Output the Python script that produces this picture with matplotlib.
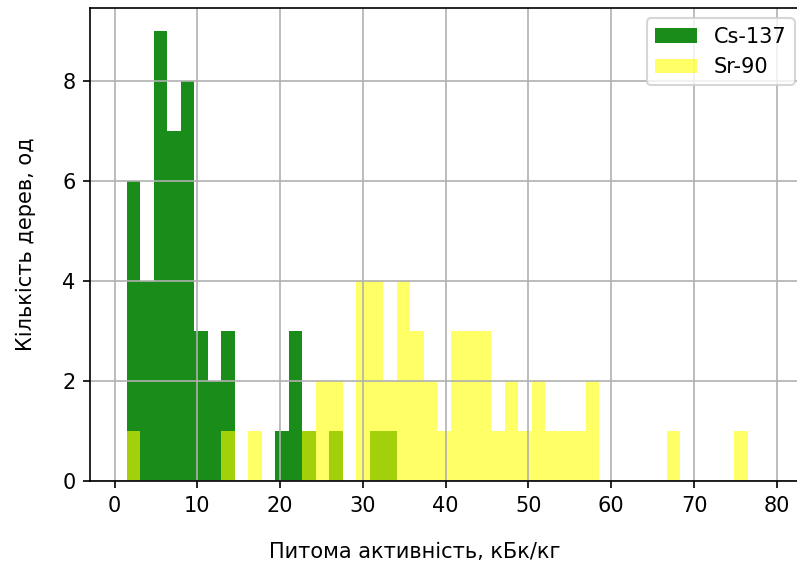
import numpy as np
import matplotlib
matplotlib.use("Agg")
import matplotlib.pyplot as plt

# shared histogram bins (kBq/kg)
bin_start = 1.47
bin_end = 76.47
n_bins = 46

# counts per bin
cs137_counts = [6, 4, 9, 7, 8, 3, 2, 3, 0, 0, 0, 1, 3, 1, 0, 1, 0, 0, 1, 1,
                0, 0, 0, 0, 0, 0, 0, 0, 0, 0, 0, 0, 0, 0, 0, 0, 0, 0, 0, 0,
                0, 0, 0, 0, 0, 0]
sr90_counts = [1, 0, 0, 0, 0, 0, 0, 1, 0, 1, 0, 0, 0, 1, 2, 2, 0, 4, 4, 2,
               4, 3, 2, 1, 3, 3, 3, 1, 2, 1, 2, 1, 1, 1, 2, 0, 0, 0, 0, 0,
               1, 0, 0, 0, 0, 1]

x_ticks = [0, 10, 20, 30, 40, 50, 60, 70, 80]
y_ticks = [0, 2, 4, 6, 8]

edges = np.linspace(bin_start, bin_end, n_bins + 1)
centers = (edges[:-1] + edges[1:]) / 2

fig = plt.figure(figsize=(797 / 150, 570 / 150), dpi=150)
ax = fig.add_axes([90 / 797, 89 / 570, 715 / 797, 473 / 570])

ax.hist(centers, bins=edges, weights=cs137_counts, color="green", alpha=0.9, label="Cs-137")
ax.hist(centers, bins=edges, weights=sr90_counts, color="yellow", alpha=0.6, label="Sr-90")

ax.set_xlim(-2.96, 83.4)
ax.set_ylim(0, 9.45)
ax.set_xticks(x_ticks)
ax.set_yticks(y_ticks)
ax.grid(True)
ax.legend(loc="upper right")

ax.set_xlabel("Питома активність, кБк/кг")
ax.set_ylabel("Кількість дерев, од")
ax.xaxis.set_label_coords(0.4545, -0.129)
ax.yaxis.set_label_coords(-0.0755, 0.5)

fig.savefig("out.png", dpi=150)
